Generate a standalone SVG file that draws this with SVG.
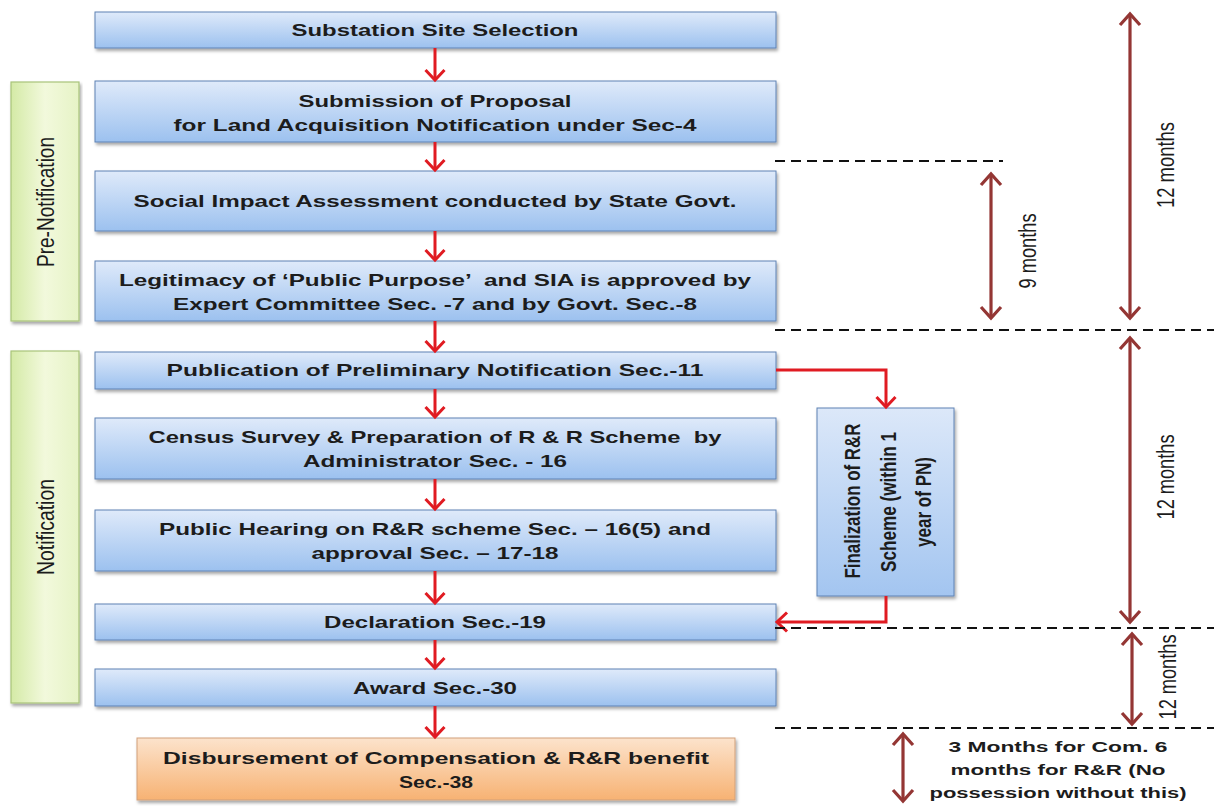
<svg xmlns="http://www.w3.org/2000/svg" width="1214" height="806" viewBox="0 0 1214 806">
<defs>
  <linearGradient id="gBlue" x1="0" y1="0" x2="0" y2="1">
    <stop offset="0" stop-color="#dfeafa"/>
    <stop offset="1" stop-color="#9cc1ef"/>
  </linearGradient>
  <linearGradient id="gBlueV" x1="0" y1="0" x2="0" y2="1">
    <stop offset="0" stop-color="#dce8f9"/>
    <stop offset="1" stop-color="#a3c5f0"/>
  </linearGradient>
  <linearGradient id="gGreen" x1="0" y1="0" x2="1" y2="0">
    <stop offset="0" stop-color="#d4eaa6"/>
    <stop offset="0.5" stop-color="#f2f9dc"/>
    <stop offset="1" stop-color="#e6f3c6"/>
  </linearGradient>
  <linearGradient id="gOrange" x1="0" y1="0" x2="0" y2="1">
    <stop offset="0" stop-color="#fce3cc"/>
    <stop offset="1" stop-color="#f7b273"/>
  </linearGradient>
  <filter id="shadow" x="-5%" y="-20%" width="110%" height="150%">
    <feDropShadow dx="1.5" dy="2.5" stdDeviation="1.5" flood-color="#000" flood-opacity="0.35"/>
  </filter>
  <marker id="redHead" markerUnits="userSpaceOnUse" markerWidth="22" markerHeight="22" viewBox="0 0 22 22" refX="19" refY="11" orient="auto-start-reverse">
    <path d="M9,1.5 L19,11 L9,20.5" fill="none" stroke="#e01b22" stroke-width="3"/>
  </marker>
  <marker id="brownHead" markerUnits="userSpaceOnUse" markerWidth="24" markerHeight="24" viewBox="0 0 24 24" refX="21" refY="12" orient="auto-start-reverse">
    <path d="M10,2 L21,12 L10,22" fill="none" stroke="#943634" stroke-width="3.2"/>
  </marker>
</defs>
<style>
  .box { fill: url(#gBlue); stroke: #5f82b4; stroke-width: 1; filter: url(#shadow); }
  .side { fill: url(#gGreen); stroke: #a8c47a; stroke-width: 1.2; filter: url(#shadow); }
  .orange { fill: url(#gOrange); stroke: #d1a07a; stroke-width: 1; filter: url(#shadow); }
  .t { font-family: "Liberation Sans", Arial, sans-serif; font-weight: bold; font-size: 17px; fill: #1c1c1c; text-anchor: middle; white-space: pre; }
  .v { font-family: "Liberation Sans", Arial, sans-serif; font-size: 17.5px; fill: #1c1c1c; text-anchor: middle; dominant-baseline: central; }
  .vb { font-family: "Liberation Sans", Arial, sans-serif; font-weight: bold; font-size: 17px; fill: #1c1c1c; text-anchor: middle; dominant-baseline: central; }
  .note { font-family: "Liberation Sans", Arial, sans-serif; font-weight: bold; font-size: 14.5px; fill: #1c1c1c; text-anchor: middle; }
  .red { fill: none; stroke: #e01b22; stroke-width: 3; marker-end: url(#redHead); }
  .brown { fill: none; stroke: #943634; stroke-width: 3.2; marker-start: url(#brownHead); marker-end: url(#brownHead); }
  .dash { fill: none; stroke: #111; stroke-width: 2; stroke-dasharray: 10 6; }
</style>

<g id="pre-notification">
  <rect class="side" x="11" y="82" width="68" height="239"/>
  <text class="v" transform="translate(45,202) scale(1.35,1) rotate(-90)" textLength="130" lengthAdjust="spacingAndGlyphs">Pre-Notification</text>
</g>
<g id="notification">
  <rect class="side" x="11" y="351" width="68" height="352"/>
  <text class="v" transform="translate(45,527) scale(1.35,1) rotate(-90)" textLength="96" lengthAdjust="spacingAndGlyphs">Notification</text>
</g>

<g id="site-selection">
  <rect class="box" x="95" y="12" width="681" height="36"/>
  <text class="t" x="435" y="36" textLength="287" lengthAdjust="spacingAndGlyphs">Substation Site Selection</text>
</g>
<g id="proposal">
  <rect class="box" x="95" y="81" width="681" height="61"/>
  <text class="t" x="435" y="107" textLength="273" lengthAdjust="spacingAndGlyphs">Submission of Proposal</text>
  <text class="t" x="435" y="131" textLength="523" lengthAdjust="spacingAndGlyphs">for Land Acquisition Notification under Sec-4</text>
</g>
<g id="sia">
  <rect class="box" x="95" y="171" width="681" height="60"/>
  <text class="t" x="435" y="207" textLength="603" lengthAdjust="spacingAndGlyphs">Social Impact Assessment conducted by State Govt.</text>
</g>
<g id="legitimacy">
  <rect class="box" x="95" y="261" width="681" height="60"/>
  <text class="t" x="435" y="286" textLength="632" lengthAdjust="spacingAndGlyphs">Legitimacy of ‘Public Purpose’  and SIA is approved by</text>
  <text class="t" x="435" y="310" textLength="524" lengthAdjust="spacingAndGlyphs">Expert Committee Sec. -7 and by Govt. Sec.-8</text>
</g>
<g id="preliminary">
  <rect class="box" x="95" y="352" width="681" height="37"/>
  <text class="t" x="435" y="376" textLength="537" lengthAdjust="spacingAndGlyphs">Publication of Preliminary Notification Sec.-11</text>
</g>
<g id="census">
  <rect class="box" x="95" y="418" width="681" height="61"/>
  <text class="t" x="435" y="443" textLength="573" lengthAdjust="spacingAndGlyphs">Census Survey &amp; Preparation of R &amp; R Scheme  by</text>
  <text class="t" x="435" y="467" textLength="264" lengthAdjust="spacingAndGlyphs">Administrator Sec. - 16</text>
</g>
<g id="hearing">
  <rect class="box" x="95" y="510" width="681" height="61"/>
  <text class="t" x="435" y="535" textLength="552" lengthAdjust="spacingAndGlyphs">Public Hearing on R&amp;R scheme Sec. – 16(5) and</text>
  <text class="t" x="435" y="559" textLength="247" lengthAdjust="spacingAndGlyphs">approval Sec. – 17-18</text>
</g>
<g id="declaration">
  <rect class="box" x="95" y="604" width="681" height="36"/>
  <text class="t" x="435" y="628" textLength="222" lengthAdjust="spacingAndGlyphs">Declaration Sec.-19</text>
</g>
<g id="award">
  <rect class="box" x="95" y="669" width="681" height="37"/>
  <text class="t" x="435" y="694" textLength="164" lengthAdjust="spacingAndGlyphs">Award Sec.-30</text>
</g>
<g id="disbursement">
  <rect class="orange" x="137" y="738" width="598" height="62"/>
  <text class="t" x="436" y="764" textLength="546" lengthAdjust="spacingAndGlyphs">Disbursement of Compensation &amp; R&amp;R benefit</text>
  <text class="t" x="436" y="788" textLength="74" lengthAdjust="spacingAndGlyphs">Sec.-38</text>
</g>
<g id="finalization">
  <rect class="box" x="817" y="408" width="137" height="188" style="fill:url(#gBlueV)"/>
  <text class="vb" transform="translate(852,501) scale(1.3,1) rotate(-90)" textLength="155" lengthAdjust="spacingAndGlyphs">Finalization of R&amp;R</text>
  <text class="vb" transform="translate(888,502) scale(1.3,1) rotate(-90)" textLength="140" lengthAdjust="spacingAndGlyphs">Scheme (within 1</text>
  <text class="vb" transform="translate(923,502) scale(1.3,1) rotate(-90)" textLength="90" lengthAdjust="spacingAndGlyphs">year of PN)</text>
</g>

<g id="connectors">
  <line class="red" x1="435" y1="48" x2="435" y2="80"/>
  <line class="red" x1="435" y1="142" x2="435" y2="170"/>
  <line class="red" x1="435" y1="231" x2="435" y2="260"/>
  <line class="red" x1="435" y1="321" x2="435" y2="351"/>
  <line class="red" x1="435" y1="389" x2="435" y2="417"/>
  <line class="red" x1="435" y1="479" x2="435" y2="509"/>
  <line class="red" x1="435" y1="571" x2="435" y2="603"/>
  <line class="red" x1="435" y1="640" x2="435" y2="668"/>
  <line class="red" x1="435" y1="706" x2="435" y2="737"/>
  <path class="red" d="M776,370 H886 V407"/>
  <path class="red" d="M886,596 V622 H777"/>
</g>

<g id="timeline">
  <line class="dash" x1="775" y1="161" x2="1003" y2="161"/>
  <line class="dash" x1="775" y1="330" x2="1214" y2="330"/>
  <line class="dash" x1="775" y1="628" x2="1214" y2="628"/>
  <line class="dash" x1="775" y1="728" x2="1214" y2="728"/>
  <line class="brown" x1="991" y1="174" x2="991" y2="318"/>
  <line class="brown" x1="1130" y1="14" x2="1130" y2="318"/>
  <line class="brown" x1="1130" y1="338" x2="1130" y2="622"/>
  <line class="brown" x1="1132" y1="634" x2="1132" y2="724"/>
  <line class="brown" x1="903" y1="734" x2="903" y2="801"/>
  <text class="v" transform="translate(1027,251) scale(1.35,1) rotate(-90)" textLength="75" lengthAdjust="spacingAndGlyphs">9 months</text>
  <text class="v" transform="translate(1165,165) scale(1.35,1) rotate(-90)" textLength="86" lengthAdjust="spacingAndGlyphs">12 months</text>
  <text class="v" transform="translate(1165,477) scale(1.35,1) rotate(-90)" textLength="85" lengthAdjust="spacingAndGlyphs">12 months</text>
  <text class="v" transform="translate(1167,677) scale(1.35,1) rotate(-90)" textLength="85" lengthAdjust="spacingAndGlyphs">12 months</text>
  <text class="note" x="1058" y="752" textLength="219" lengthAdjust="spacingAndGlyphs">3 Months for Com. 6</text>
  <text class="note" x="1058" y="775" textLength="215" lengthAdjust="spacingAndGlyphs">months for R&amp;R (No</text>
  <text class="note" x="1058" y="798" textLength="257" lengthAdjust="spacingAndGlyphs">possession without this)</text>
</g>
</svg>
